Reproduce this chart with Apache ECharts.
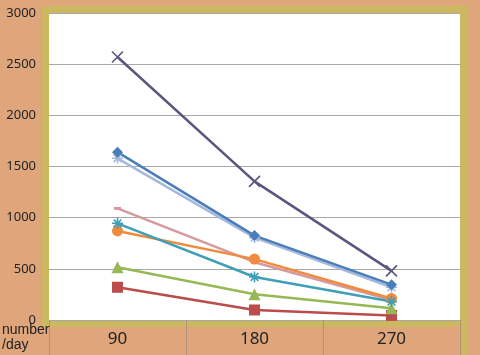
<!DOCTYPE html>
<html>
<head>
<meta charset="utf-8">
<script src="https://cdn.jsdelivr.net/npm/echarts@6/dist/echarts.min.js"></script>
<style>html,body{margin:0;padding:0;background:#DFA67C;}#c{width:480px;height:355px;}</style>
</head>
<body>
<div id="c"></div>
<script>
var categories = ['90', '180', '270'];
var yTicks = [0, 500, 1000, 1500, 2000, 2500, 3000];
var seriesNames = ['s1', 's2', 's3', 's4', 's5', 's6', 's7', 's8'];
var redSquare = [320, 98, 45];
var greenTriangle = [515, 252, 115];
var tealAsterisk = [945, 420, 180];
var orangeCircle = [870, 595, 210];
var pinkDash = [1090, 565, 195];
var lightBlueStar = [1580, 805, 320];
var blueDiamond = [1640, 825, 345];
var purpleCross = [2570, 1355, 480];
var axisUnit = 'number\n/day';

var XPATH = 'path://M0,0L10,10M10,0L0,10';
var ASTER = 'path://M5,0L5,10M0,5L10,5M1.5,1.5L8.5,8.5M8.5,1.5L1.5,8.5';

function mk(name, data, color, symbol, size, stroke) {
  return {
    name: name, type: 'line', data: data, symbol: symbol, symbolSize: size,
    showSymbol: true,
    lineStyle: { color: color, width: 2.5 },
    itemStyle: { color: color, borderColor: color, borderWidth: stroke || 0 },
    emphasis: { disabled: true }, animation: false
  };
}

var chart = echarts.init(document.getElementById('c'));
chart.setOption({
  backgroundColor: '#DFA67C',
  animation: false,
  graphic: [
    { type: 'rect', z: -10, shape: { x: 42, y: 6, width: 425, height: 321 },
      style: { fill: '#CDB862' } },
    { type: 'rect', z: -10, shape: { x: 460, y: 6, width: 7, height: 349 },
      style: { fill: '#CDB862' } },
    { type: 'text', left: 2, top: 323, z: 10,
      style: { text: axisUnit, font: '14px "Liberation Sans"', fill: '#222', lineHeight: 15 } }
  ],
  grid: { left: 49, right: 20, top: 13, bottom: 35, show: true, backgroundColor: '#FFFFFF', borderWidth: 0 },
  xAxis: {
    type: 'category', data: categories, boundaryGap: true,
    axisLine: { show: false },
    axisTick: { show: true, length: 35, lineStyle: { color: '#B5927A', width: 1 } },
    axisLabel: { color: '#222', fontSize: 17, fontFamily: 'Noto Sans', margin: 11 }
  },
  yAxis: {
    type: 'value', min: yTicks[0], max: yTicks[yTicks.length - 1], interval: 500,
    axisLine: { show: false }, axisTick: { show: false },
    axisLabel: { color: '#222', fontSize: 13, fontFamily: 'Noto Sans', margin: 13,
      formatter: function (v) { return String(v); } },
    splitLine: { lineStyle: { color: '#A8A8A8', width: 1 } }
  },
  series: [
    mk(seriesNames[0], redSquare, '#BC4B4B', 'rect', 11),
    mk(seriesNames[1], greenTriangle, '#96B955', 'triangle', 12),
    mk(seriesNames[2], pinkDash, '#D59A9D', 'rect', [7, 3]),
    mk(seriesNames[3], orangeCircle, '#F08B3E', 'circle', 11),
    mk(seriesNames[4], tealAsterisk, '#3E9FB6', ASTER, 11, 1.6),
    mk(seriesNames[5], lightBlueStar, '#A4B9DB', ASTER, 11, 1.6),
    mk(seriesNames[6], blueDiamond, '#4A7DBA', 'diamond', 11),
    mk(seriesNames[7], purpleCross, '#5A5680', XPATH, 11, 1.6)
  ]
});
</script>
</body>
</html>
